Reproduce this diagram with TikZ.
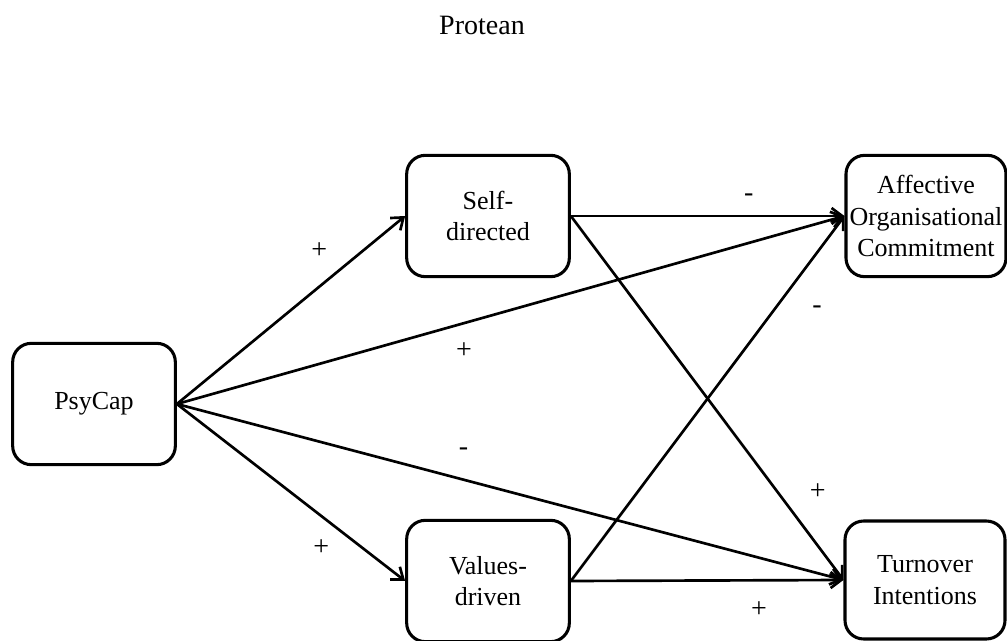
\documentclass[tikz,border=0pt]{standalone}
\usepackage{fontspec}
\setmainfont{Liberation Serif}
\usetikzlibrary{arrows.meta}

\begin{document}
\begin{tikzpicture}[
  x=0.75pt, y=-0.75pt,
  box/.style={rectangle, draw=black, line width=2.3pt, rounded corners=14pt,
              minimum width=122pt, minimum height=91pt, align=center,
              inner sep=1pt, font=\fontsize{19.5}{23.5}\selectfont},
  arr/.style={-{Straight Barb[length=8pt,width=12pt]}, line width=2pt},
  sign/.style={font=\fontsize{21}{23.5}\selectfont, inner sep=0pt}
]
\useasboundingbox (0,0) rectangle (1007,641);

\node[font=\fontsize{21}{25}\selectfont] (title) at (482,25) {Protean};

\node[box] (psycap) at (94,404)  {PsyCap};
\node[box] (self)   at (488,216) {Self-\\directed};
\node[box] (values) at (488,581) {Values-\\driven};
\node[box, minimum width=120pt] (aoc) at (926,216) {Affective\\Organisational\\Commitment};
\node[box, minimum width=120pt, minimum height=88.5pt] (ti) at (925,580) {Turnover\\Intentions};

\draw[arr] (psycap.east) -- node[sign, pos=0.7, xshift=-13pt, yshift=16pt]{+} (self.west);
\draw[arr] (psycap.east) -- node[sign, pos=0.7, xshift=-11.5pt, yshift=-15pt]{+} (values.west);
\draw[arr] (psycap.east) -- node[sign, pos=0.42, xshift=5pt, yshift=-19pt]{+} (aoc.west);
\draw[arr] (psycap.east) -- node[sign, pos=0.42, xshift=5pt, yshift=20pt]{-} (ti.west);
\draw[arr] (self.east)   -- node[sign, pos=0.65, yshift=13.5pt]{-} (aoc.west);
\draw[arr] (self.east)   -- node[sign, pos=0.81, xshift=19.5pt, yshift=14.5pt]{+} (ti.west);
\draw[arr] (values.east) -- node[sign, pos=0.8, xshift=20.5pt, yshift=-15.5pt]{-} (aoc.west);
\draw[arr] (values.east) -- node[sign, pos=0.69, yshift=-22pt]{+} (ti.west);
\end{tikzpicture}
\end{document}
